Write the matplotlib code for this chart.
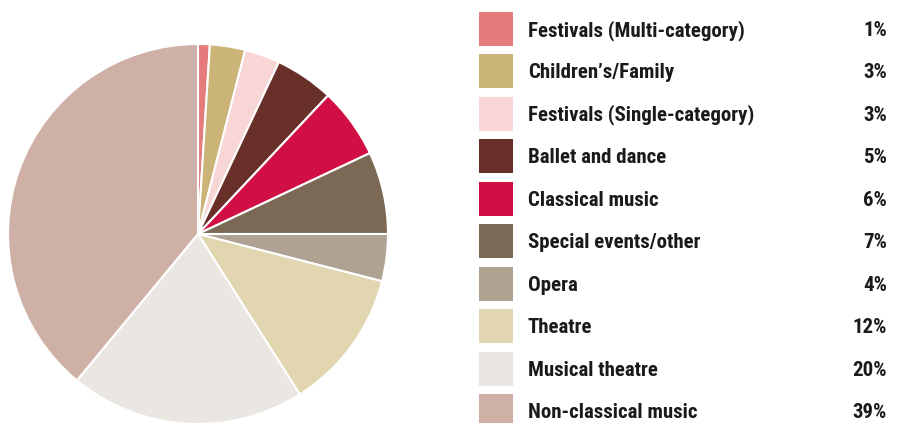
import matplotlib
matplotlib.use("Agg")
import matplotlib.pyplot as plt
from matplotlib.patches import Rectangle

categories = ["Festivals (Multi-category)", "Children\u2019s/Family", "Festivals (Single-category)",
              "Ballet and dance", "Classical music", "Special events/other", "Opera",
              "Theatre", "Musical theatre", "Non-classical music"]
values = [1, 3, 3, 5, 6, 7, 4, 12, 20, 39]
colors = ["#E57B7B", "#CBB477", "#F7D6D5", "#69302A", "#D20F45", "#7B6955",
          "#AFA292", "#E2D6B0", "#EAE6E1", "#CFB0A6"]

W, H = 898, 423
fig = plt.figure(figsize=(W / 100, H / 100), dpi=100)

cx, cy, r = 198, 234, 190
ax = fig.add_axes([(cx - r) / W, (H - cy - r) / H, 2 * r / W, 2 * r / H])
ax.pie(values, colors=colors, startangle=90, counterclock=False, radius=1,
       wedgeprops=dict(edgecolor="white", linewidth=1.5))
ax.set_xlim(-1, 1)
ax.set_ylim(-1, 1)
ax.set_aspect("equal")
ax.axis("off")

font = ["Roboto Condensed", "DejaVu Sans"]
sq_x, sq_size, top0, step = 479, 34, 12, 42.45
for i, (cat, v, c) in enumerate(zip(categories, values, colors)):
    top = top0 + i * step
    fig.patches.append(Rectangle((sq_x / W, (H - top - sq_size) / H), sq_size / W, sq_size / H,
                                 transform=fig.transFigure, facecolor=c, edgecolor="none"))
    base = (H - (top + 24)) / H
    fig.text(528 / W, base, cat, family=font, fontweight="bold", fontsize=15,
             color="#1a1a1a", va="baseline", ha="left")
    fig.text(887 / W, base, f"{v}%", family=font, fontweight="bold", fontsize=15,
             color="#1a1a1a", va="baseline", ha="right")

fig.savefig("out.png", dpi=100)
